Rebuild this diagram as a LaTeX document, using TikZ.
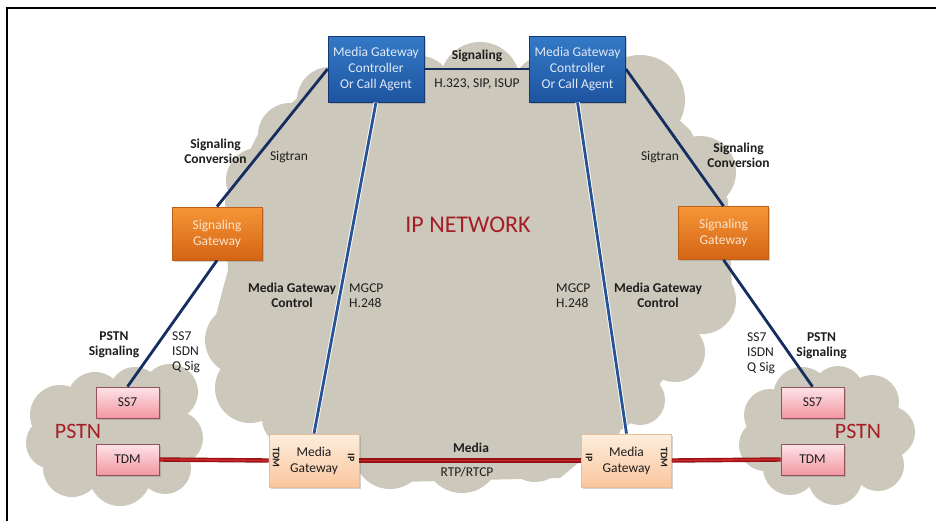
\documentclass[tikz,border=0pt]{standalone}
\usepackage{fontspec}
\setmainfont{Carlito}
\usetikzlibrary{shadows}
\definecolor{cloudgray}{RGB}{204,200,187}
\definecolor{navyline}{RGB}{22,45,95}
\definecolor{blueline}{RGB}{38,82,150}
\definecolor{reddark}{RGB}{150,18,22}
\definecolor{redlight}{RGB}{205,40,40}
\definecolor{labeltext}{RGB}{30,30,30}
\definecolor{pstnred}{RGB}{165,30,38}
\tikzset{
  boxbase/.style={draw, line width=0.8pt, inner sep=0pt, align=center,
    font=\fontsize{13.5}{16}\selectfont,
    drop shadow={opacity=0.35, shadow xshift=1.5pt, shadow yshift=-1.5pt}},
  mgcbox/.style={boxbase, minimum width=96pt, minimum height=66pt,
    top color={rgb,255:red,52;green,122;blue,198}, bottom color={rgb,255:red,30;green,84;blue,160},
    draw={rgb,255:red,22;green,55;blue,115}, text={rgb,255:red,225;green,234;blue,246}},
  sgbox/.style={boxbase, minimum width=90pt, minimum height=53pt,
    top color={rgb,255:red,246;green,150;blue,55}, bottom color={rgb,255:red,212;green,100;blue,20},
    draw={rgb,255:red,190;green,95;blue,25}, text={rgb,255:red,253;green,228;blue,205}},
  mgbox/.style={boxbase, minimum width=90pt, minimum height=53pt,
    top color={rgb,255:red,253;green,238;blue,220}, bottom color={rgb,255:red,250;green,198;blue,158},
    draw={rgb,255:red,232;green,190;blue,150}, text=labeltext},
  pinkbox/.style={boxbase, minimum width=63pt, minimum height=31pt,
    top color={rgb,255:red,253;green,228;blue,232}, bottom color={rgb,255:red,242;green,150;blue,162},
    draw={rgb,255:red,150;green,80;blue,88}, text=labeltext},
  lbl/.style={inner sep=0pt, align=center, text=labeltext, font=\fontsize{13.5}{15}\selectfont},
  lblb/.style={lbl, font=\fontsize{13.5}{15}\selectfont\bfseries},
  lbll/.style={lbl, align=left, anchor=west},
  tinylbl/.style={inner sep=0pt, text=labeltext, font=\fontsize{10}{10}\selectfont\bfseries, rotate=-90},
  bigred/.style={inner sep=0pt, text=pstnred},
  navy/.style={draw=navyline, line width=2.8pt},
  blueconn/.style={draw=blueline, line width=2.8pt},
  halo/.style={draw=white, line width=4.6pt},
  redouter/.style={draw=reddark, line width=4.4pt},
  redinner/.style={draw=redlight, line width=1.6pt},
}
\begin{document}
\begin{tikzpicture}[x=1pt,y=-1pt]
\useasboundingbox (0,0) rectangle (936,520);
\fill[white] (0,0) rectangle (936,520);
\draw[line width=1.5pt, line cap=rect] (7,521) -- (7,8) -- (937,8);

% ---------- IP cloud ----------
\begin{scope}[fill=cloudgray]
\fill (330,70) -- (625,70) -- (690,130) -- (728,200) -- (732,290) -- (690,340) -- (635,420)
  -- (600,445) -- (560,478) -- (400,482) -- (300,440) -- (240,405) -- (212,330)
  -- (228,270) -- (225,200) -- (260,130) -- cycle;
\fill (480,82) circle[radius=40pt];
\fill (420,88) circle[radius=32pt];
\fill (545,88) circle[radius=32pt];
\fill (330,100) circle[radius=33pt];
\fill (290,135) circle[radius=32pt];
\fill (258,180) circle[radius=32pt];
\fill (255,240) circle[radius=28pt];
\fill (258,290) circle[radius=30pt];
\fill (240,340) circle[radius=35pt];
\fill (250,388) circle[radius=35pt];
\fill (292,418) circle[radius=30pt];
\fill (390,453) circle[radius=36pt];
\fill (462,455) circle[radius=38pt];
\fill (535,450) circle[radius=32pt];
\fill (590,428) circle[radius=30pt];
\fill (640,400) circle[radius=25pt];
\fill (675,352) circle[radius=30pt];
\fill (702,300) circle[radius=34pt];
\fill (700,240) circle[radius=32pt];
\fill (700,172) circle[radius=36pt];
\fill (640,100) circle[radius=45pt];
\end{scope}

% ---------- PSTN clouds ----------
\begin{scope}[fill=cloudgray]
\fill (60,415) -- (170,390) -- (178,440) -- (120,478) -- (70,470) -- cycle;
\fill (60,415) circle[radius=30pt];
\fill (95,400) circle[radius=28pt];
\fill (135,393) circle[radius=26pt];
\fill (170,392) circle[radius=28pt];
\fill (176,438) circle[radius=27pt];
\fill (165,468) circle[radius=26pt];
\fill (120,475) circle[radius=31pt];
\fill (72,468) circle[radius=29pt];
\fill (52,443) circle[radius=26pt];

\fill (770,418) -- (870,400) -- (890,430) -- (835,480) -- (790,470) -- cycle;
\fill (770,415) circle[radius=26pt];
\fill (802,396) circle[radius=29pt];
\fill (838,392) circle[radius=26pt];
\fill (872,402) circle[radius=27pt];
\fill (889,432) circle[radius=26pt];
\fill (878,465) circle[radius=26pt];
\fill (835,478) circle[radius=27pt];
\fill (790,468) circle[radius=27pt];
\fill (765,445) circle[radius=26pt];
\end{scope}

% ---------- nodes ----------
\node[mgcbox] (mgcA) at (376,69) {Media Gateway\\Controller\\Or Call Agent};
\node[mgcbox] (mgcB) at (577.5,69) {Media Gateway\\Controller\\Or Call Agent};
\node[sgbox] (sgA) at (217,233.5) {Signaling\\Gateway};
\node[sgbox] (sgB) at (723.5,233) {Signaling\\Gateway};
\node[mgbox] (mgA) at (314,460.5) {Media\\Gateway};
\node[mgbox] (mgB) at (626.5,460.5) {Media\\Gateway};
\node[pinkbox] (ssA) at (127.5,402.5) {SS7};
\node[pinkbox] (tdmA) at (127.5,459.5) {TDM};
\node[pinkbox] (ssB) at (812.5,402.5) {SS7};
\node[pinkbox] (tdmB) at (812.5,459.5) {TDM};

% ---------- connectors ----------
\draw[navy] (mgcA.east) -- (mgcB.west);
\draw[navy] (mgcA.west) -- (sgA.north);
\draw[navy] (sgA.south) -- (ssA.north);
\draw[navy] (mgcB.east) -- (sgB.north);
\draw[navy] (sgB.south) -- (ssB.north);
\draw[halo] (mgcA.south) -- (mgA.north);
\draw[blueconn] (mgcA.south) -- (mgA.north);
\draw[halo] (mgcB.south) -- (mgB.north);
\draw[blueconn] (mgcB.south) -- (mgB.north);
\foreach \a/\b in {tdmA.east/mgA.west, mgA.east/mgB.west, mgB.east/tdmB.west}{
  \draw[redouter] (\a) -- (\b);
  \draw[redinner] (\a) -- (\b);
}

% ---------- port labels ----------
\node[tinylbl] (portA1) at (276,457.5) {TDM};
\node[tinylbl] (portA2) at (351,457.5) {IP};
\node[tinylbl] (portB1) at (589,457.5) {IP};
\node[tinylbl] (portB2) at (664,457.5) {TDM};

% ---------- labels ----------
\node[lblb] (lsig) at (477,56) {Signaling};
\node[lbl] (lh323) at (477,84) {H.323, SIP, ISUP};
\node[lblb] (lconvA) at (215.5,151.5) {Signaling\\Conversion};
\node[lbl] (lsigtA) at (289,157) {Sigtran};
\node[lblb] (lconvB) at (738.5,155.5) {Signaling\\Conversion};
\node[lbl] (lsigtB) at (660,157) {Sigtran};
\node[lblb] (lmgcA) at (292,295.5) {Media Gateway\\Control};
\node[lbll] (lmgcpA) at (349,295.5) {MGCP\\H.248};
\node[lblb] (lmgcB) at (658,295.5) {Media Gateway\\Control};
\node[lbll] (lmgcpB) at (556,295.5) {MGCP\\H.248};
\node[lblb] (lpstnA) at (114,344.5) {PSTN\\Signaling};
\node[lbll] (lss7A) at (172,352) {SS7\\ISDN\\Q Sig};
\node[lblb] (lpstnB) at (821.5,345.5) {PSTN\\Signaling};
\node[lbll] (lss7B) at (747,353) {SS7\\ISDN\\Q Sig};
\node[lblb] (lmedia) at (471,448) {Media};
\node[lbl] (lrtp) at (467,472) {RTP/RTCP};

% ---------- big titles ----------
\node[bigred, font=\fontsize{24}{26}\selectfont] (ipnet) at (468,225) {IP NETWORK};
\node[bigred, font=\fontsize{22}{24}\selectfont] (pstnA) at (78,431) {PSTN};
\node[bigred, font=\fontsize{22}{24}\selectfont] (pstnB) at (858,431) {PSTN};
\end{tikzpicture}
\end{document}
